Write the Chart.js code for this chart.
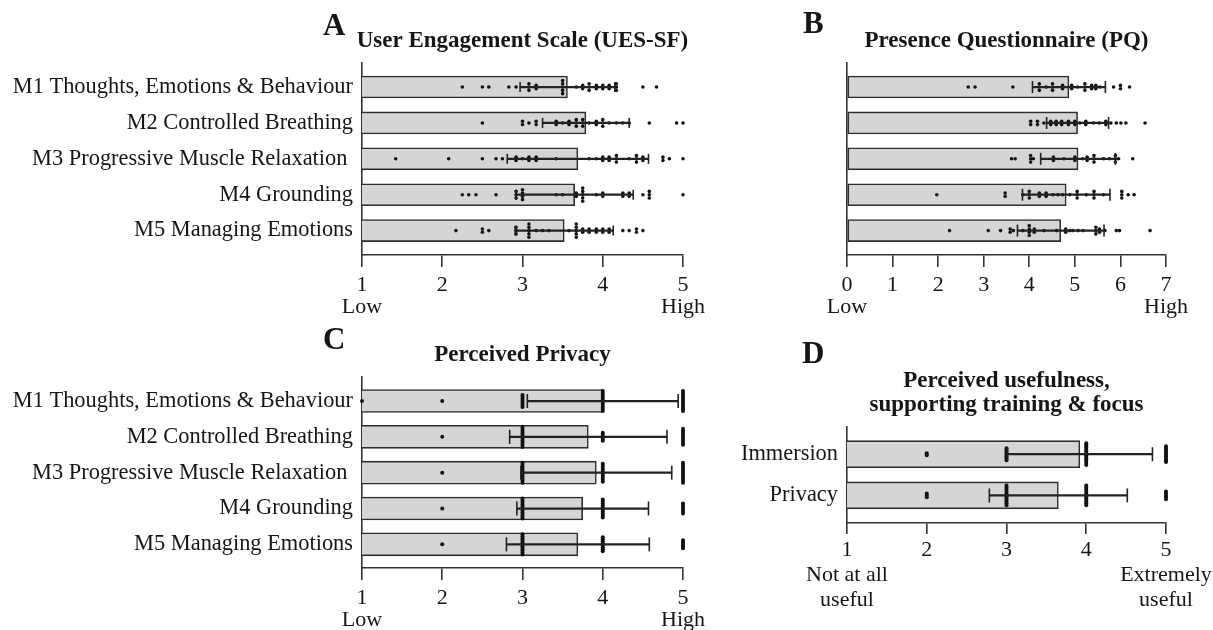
<!DOCTYPE html>
<html>
<head>
<meta charset="utf-8">
<script src="https://cdn.jsdelivr.net/npm/chart.js@4.4.1/dist/chart.umd.min.js"></script>
<style>
html,body{margin:0;padding:0;background:#fff;width:1213px;height:630px;overflow:hidden}
canvas{position:absolute;left:0;top:0}
</style>
</head>
<body>
<canvas id="cA" width="1213" height="630"></canvas>
<canvas id="cB" width="1213" height="630"></canvas>
<canvas id="cC" width="1213" height="630"></canvas>
<canvas id="cD" width="1213" height="630"></canvas>
<script>
// ---------- DATA ----------
const moduleLabels = ['M1 Thoughts, Emotions & Behaviour', 'M2 Controlled Breathing',
  'M3 Progressive Muscle Relaxation ', 'M4 Grounding', 'M5 Managing Emotions'];
const usefulLabels = ['Immersion', 'Privacy'];

const lowHighEnds = ['Low', 'High'];
const usefulEnds = [['Not at all', 'useful'], ['Extremely', 'useful']];

// A: User Engagement Scale (UES-SF), 1-5
const uesMean = [3.56, 3.79, 3.69, 3.65, 3.52];
const uesSD = [0.59, 0.54, 0.88, 0.73, 0.61];
const uesM1 = [2.25, 2.5, 2.58, 2.83, 2.92, 3.08, 3.08, 3.08, 3.17, 3.17, 3.5, 3.5, 3.5, 3.5, 3.5, 3.67, 3.75, 3.75,
  3.83, 3.83, 3.83, 3.92, 3.92, 4.0, 4.0, 4.08, 4.08, 4.17, 4.17, 4.17, 4.5, 4.67];
const uesM2 = [2.5, 3.0, 3.0, 3.08, 3.17, 3.17, 3.42, 3.42, 3.5, 3.58, 3.58, 3.67, 3.67, 3.67, 3.75, 3.75, 3.75, 3.83,
  3.92, 3.92, 4.0, 4.0, 4.0, 4.08, 4.17, 4.25, 4.33, 4.58, 4.92, 5.0];
const uesM3 = [1.42, 2.08, 2.5, 2.67, 2.75, 2.92, 2.92, 3.0, 3.08, 3.08, 3.17, 3.17, 3.42, 3.83, 3.92, 4.0, 4.0,
  4.08, 4.08, 4.17, 4.17, 4.17, 4.33, 4.42, 4.42, 4.42, 4.5, 4.5, 4.75, 4.75, 4.83, 5.0];
const uesM4 = [2.25, 2.33, 2.42, 2.67, 2.92, 2.92, 2.92, 3.0, 3.0, 3.0, 3.0, 3.42, 3.5, 3.67, 3.67, 3.75, 3.75, 3.75,
  3.75, 3.75, 3.92, 4.0, 4.0, 4.25, 4.25, 4.33, 4.33, 4.5, 4.58, 4.58, 4.58, 5.0];
const uesM5 = [2.17, 2.5, 2.5, 2.58, 2.92, 2.92, 2.92, 3.08, 3.08, 3.08, 3.08, 3.08, 3.17, 3.25, 3.33, 3.58, 3.67,
  3.67, 3.67, 3.67, 3.67, 3.75, 3.75, 3.83, 3.83, 3.92, 3.92, 4.0, 4.0, 4.08, 4.08, 4.25, 4.33, 4.42, 4.42, 4.5];

// B: Presence Questionnaire (PQ), 0-7
const pqMean = [4.87, 5.06, 5.07, 4.81, 4.69];
const pqSD = [0.80, 0.68, 0.82, 0.96, 0.95];
const pqM1 = [2.66, 2.81, 3.64, 4.22, 4.22, 4.22, 4.37, 4.51, 4.51, 4.51, 4.73, 4.73, 4.93, 4.93, 5.06, 5.22, 5.22,
  5.22, 5.37, 5.37, 5.46, 5.46, 5.55, 5.85, 6.0, 6.0, 6.2];
const pqM2 = [4.03, 4.03, 4.18, 4.18, 4.32, 4.47, 4.47, 4.59, 4.59, 4.71, 4.71, 4.86, 4.86, 5.0, 5.0, 5.11, 5.24,
  5.24, 5.41, 5.54, 5.68, 5.68, 5.79, 5.91, 6.01, 6.12, 6.54];
const pqM3 = [3.61, 3.69, 4.03, 4.03, 4.03, 4.09, 4.53, 4.53, 4.76, 5.0, 5.0, 5.17, 5.27, 5.27, 5.42, 5.42, 5.42,
  5.63, 5.76, 5.89, 5.89, 5.89, 5.96, 6.27];
const pqM4 = [1.97, 3.47, 3.47, 3.86, 4.0, 4.0, 4.0, 4.22, 4.22, 4.37, 4.37, 4.52, 4.63, 4.73, 4.89, 5.05, 5.05,
  5.05, 5.25, 5.42, 5.42, 5.42, 5.63, 6.03, 6.03, 6.03, 6.17, 6.3];
const pqM5 = [2.25, 3.1, 3.37, 3.58, 3.58, 3.65, 3.86, 4.0, 4.0, 4.0, 4.0, 4.11, 4.11, 4.32, 4.6, 4.8, 4.8, 4.89,
  4.96, 5.07, 5.18, 5.46, 5.46, 5.46, 5.54, 5.54, 5.66, 5.91, 5.98, 6.65];

// C: Perceived Privacy, 1-5 (counts of responses for ratings 1..5)
const privMean = [4.0, 3.82, 3.92, 3.75, 3.69];
const privSD = [0.94, 0.98, 0.94, 0.82, 0.89];
const privCountsM1 = [1, 1, 7, 11, 11];
const privCountsM2 = [0, 1, 11, 5, 9];
const privCountsM3 = [0, 1, 11, 10, 11];
const privCountsM4 = [0, 1, 11, 10, 6];
const privCountsM5 = [0, 1, 11, 8, 5];

// D: Perceived usefulness, 1-5 (counts for ratings 1..5)
const usefulMean = [3.92, 3.65];
const usefulSD = [0.91, 0.865];
const usefulCountsImmersion = [0, 2, 7, 12, 9];
const usefulCountsPrivacy = [0, 3, 11, 11, 5];

// ---------- HELPERS ----------
const FONT = "'Liberation Serif','Times New Roman',serif";
const INK = '#161616';
const AXIS = '#333333';

function expandCounts(counts) {
  return counts.flatMap((c, i) => Array(c).fill(i + 1));
}
function swarm(values, row, step) {
  const counts = {}; const seen = {};
  values.forEach(v => { counts[v] = (counts[v] || 0) + 1; });
  return values.map(v => {
    const n = counts[v];
    const k = seen[v] = (seen[v] || 0) + 1;
    return { x: v, y: row + (k - 1 - (n - 1) / 2) * step };
  });
}

const panelText = {
  id: 'panelText',
  afterDraw(chart, args, o) {
    const { ctx, chartArea: a } = chart;
    ctx.save();
    ctx.fillStyle = INK;
    ctx.textBaseline = 'alphabetic';
    ctx.font = 'bold 31px ' + FONT;
    ctx.textAlign = 'left';
    ctx.fillText(o.letter, a.left + o.letterDx, a.top + o.letterDy);
    ctx.font = 'bold 23px ' + FONT;
    ctx.textAlign = 'center';
    o.title.forEach((t, i) => ctx.fillText(t, (a.left + a.right) / 2, a.top + o.titleDy + i * o.titleLH));
    ctx.restore();
  }
};

function build(id, p) {
  const dots = p.dots.flatMap((vals, r) => swarm(vals, r, p.step));
  const datasets = [
    { type: 'bar', indexAxis: 'y', grouped: false, order: 4,
      data: p.mean.map((m, i) => ({ x: m, y: i })),
      backgroundColor: '#d5d5d5', borderColor: '#2e2e2e', borderWidth: 1.6, borderSkipped: false,
      barPercentage: 1, categoryPercentage: 1, maxBarThickness: p.barT },
    { type: 'bar', indexAxis: 'y', grouped: false, order: 2,
      data: p.mean.map((m, i) => ({ x: [m - p.sd[i], m + p.sd[i]], y: i })),
      backgroundColor: '#222', borderWidth: 0,
      barPercentage: 1, categoryPercentage: 1, maxBarThickness: 1.6 },
    { type: 'scatter', order: 1, clip: false,
      data: p.mean.flatMap((m, i) => [{ x: m - p.sd[i], y: i }, { x: m + p.sd[i], y: i }]),
      pointStyle: 'line', pointRotation: 90, pointRadius: p.capR,
      pointBorderColor: '#222', pointBorderWidth: 1.6 },
    { type: 'scatter', order: 3, clip: false, data: dots,
      pointRadius: p.dotR, pointBackgroundColor: '#111', pointBorderWidth: 0 }
  ];
  const xH = 100;
  return new Chart(document.getElementById(id), {
    type: 'bar',
    data: { datasets },
    plugins: [panelText],
    options: {
      responsive: false, animation: false, events: [],
      layout: { padding: { left: 0, top: p.area.top, right: 1213 - p.area.right, bottom: 630 - p.area.bottom - xH } },
      plugins: { legend: { display: false }, tooltip: { enabled: false },
        panelText: { letter: p.letter, letterDx: p.letterDx, letterDy: p.letterDy,
          title: p.title, titleDy: p.titleDy, titleLH: 23.5 } },
      scales: {
        x: {
          type: 'linear', min: p.xMin, max: p.xMax, stacked: false, offset: false,
          afterFit: s => { s.height = xH; s.paddingLeft = 0; s.paddingRight = 0; },
          grid: { offset: false, drawOnChartArea: false, drawTicks: true, tickLength: p.tickLen, color: AXIS, lineWidth: 1.6 },
          border: { display: true, color: AXIS, width: 1.6 },
          ticks: { stepSize: 1, autoSkip: false, maxRotation: 0, padding: p.tickPad, color: INK,
            font: { family: FONT, size: 22, lineHeight: p.tickLH },
            callback: v => p.xTick(v) }
        },
        y: {
          type: 'linear', reverse: true, min: p.yMin, max: p.yMax, offset: false,
          afterBuildTicks: s => { s.ticks = p.rows.map((_, i) => ({ value: i })); },
          afterFit: s => { s.width = p.area.left; s.paddingTop = 0; s.paddingBottom = 0; },
          grid: { offset: false, drawOnChartArea: false, drawTicks: false },
          border: { display: true, color: AXIS, width: 1.6 },
          ticks: { display: p.showRows, autoSkip: false, padding: 9, color: INK,
            font: { family: FONT, size: 22.4 },
            callback: v => p.rows[v] }
        }
      }
    }
  });
}

const lowHighTick = (lo, hi) => v => v === lo ? [String(v), lowHighEnds[0]] : v === hi ? [String(v), lowHighEnds[1]] : String(v);

build('cA', {
  rows: moduleLabels, mean: uesMean, sd: uesSD, dots: [uesM1, uesM2, uesM3, uesM4, uesM5],
  showRows: true, xMin: 1, xMax: 5, xTick: lowHighTick(1, 5),
  area: { left: 362, right: 683, top: 63, bottom: 255 }, yMin: -0.67, yMax: 4.68,
  barT: 22, capR: 5, dotR: 1.8, step: 0.092, tickLen: 12, tickPad: 7, tickLH: 1.0,
  letter: 'A', letterDx: -39, letterDy: -28, title: ['User Engagement Scale (UES-SF)'], titleDy: -16
});
build('cB', {
  rows: moduleLabels, mean: pqMean, sd: pqSD, dots: [pqM1, pqM2, pqM3, pqM4, pqM5],
  showRows: false, xMin: 0, xMax: 7, xTick: lowHighTick(0, 7),
  area: { left: 847, right: 1166, top: 63, bottom: 255 }, yMin: -0.67, yMax: 4.68,
  barT: 22, capR: 6, dotR: 1.8, step: 0.092, tickLen: 12, tickPad: 7, tickLH: 1.0,
  letter: 'B', letterDx: -44, letterDy: -30, title: ['Presence Questionnaire (PQ)'], titleDy: -16
});
build('cC', {
  rows: moduleLabels, mean: privMean, sd: privSD,
  dots: [privCountsM1, privCountsM2, privCountsM3, privCountsM4, privCountsM5].map(expandCounts),
  showRows: true, xMin: 1, xMax: 5, xTick: lowHighTick(1, 5),
  area: { left: 362, right: 683, top: 377, bottom: 568 }, yMin: -0.67, yMax: 4.66,
  barT: 23, capR: 7, dotR: 2, step: 0.056, tickLen: 12, tickPad: 7, tickLH: 1.0,
  letter: 'C', letterDx: -39, letterDy: -28, title: ['Perceived Privacy'], titleDy: -16
});
build('cD', {
  rows: usefulLabels, mean: usefulMean, sd: usefulSD,
  dots: [usefulCountsImmersion, usefulCountsPrivacy].map(expandCounts),
  showRows: true, xMin: 1, xMax: 5,
  xTick: v => v === 1 ? ['1', ...usefulEnds[0]] : v === 5 ? ['5', ...usefulEnds[1]] : String(v),
  area: { left: 847, right: 1166, top: 427, bottom: 523 }, yMin: -0.66, yMax: 1.67,
  barT: 27, capR: 7, dotR: 2, step: 0.048, tickLen: 11, tickPad: 4, tickLH: 1.14,
  letter: 'D', letterDx: -45, letterDy: -64, title: ['Perceived usefulness,', 'supporting training & focus'],
  titleDy: -40
});
</script>
</body>
</html>
